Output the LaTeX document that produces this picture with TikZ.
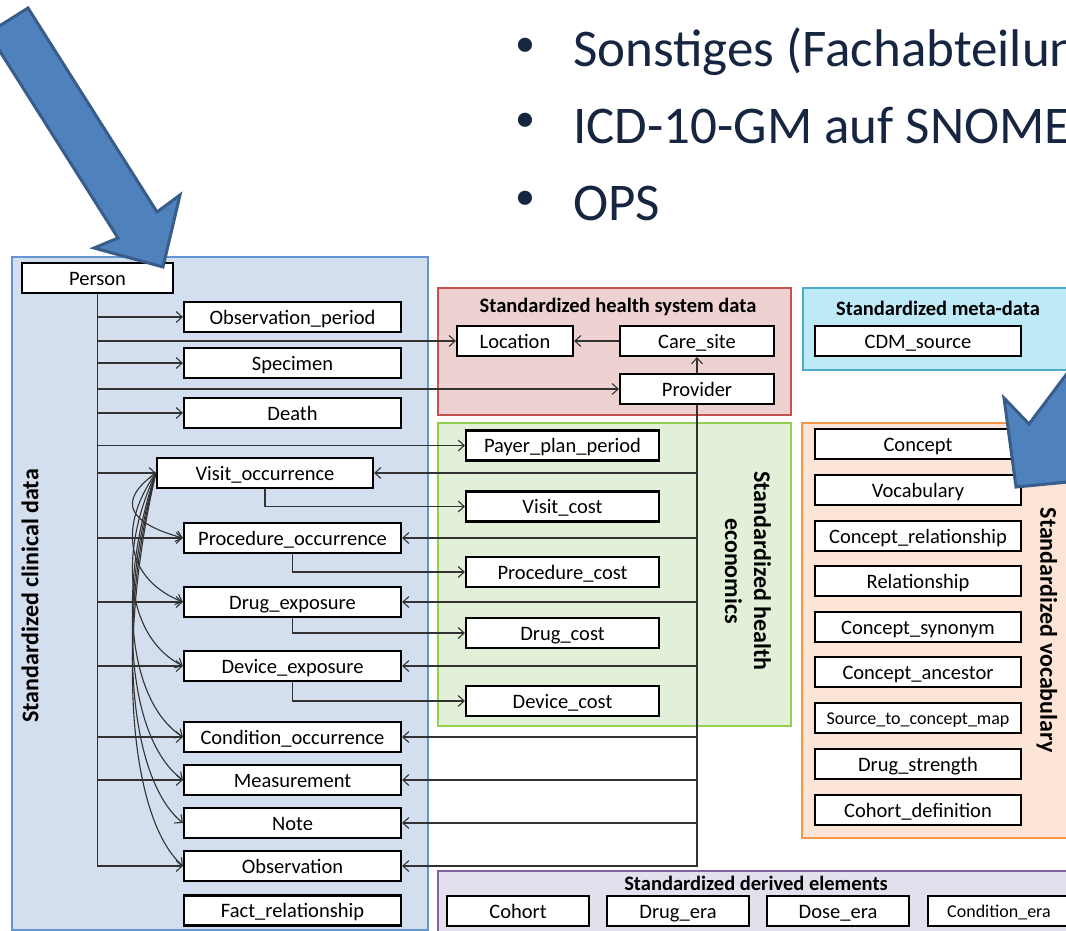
\documentclass[tikz,border=0pt]{standalone}
\usepackage{fontspec}
\setmainfont{Carlito}
\usetikzlibrary{arrows.meta}
\definecolor{clinfill}{RGB}{211,223,238}
\definecolor{clinborder}{RGB}{100,150,210}
\definecolor{hsfill}{RGB}{238,209,209}
\definecolor{hsborder}{RGB}{200,80,77}
\definecolor{ecfill}{RGB}{226,239,217}
\definecolor{ecborder}{RGB}{146,208,80}
\definecolor{mdfill}{RGB}{190,233,247}
\definecolor{mdborder}{RGB}{75,172,198}
\definecolor{vofill}{RGB}{252,228,214}
\definecolor{voborder}{RGB}{247,150,70}
\definecolor{defill}{RGB}{228,223,236}
\definecolor{deborder}{RGB}{128,100,162}
\definecolor{linecol}{RGB}{50,50,50}
\definecolor{arrowblue}{RGB}{79,129,189}
\definecolor{arrowdark}{RGB}{56,93,138}
\definecolor{navy}{RGB}{23,38,64}
\begin{document}
\begin{tikzpicture}[x=1pt,y=-1pt,
  box/.style={draw=black, line width=2.2pt, fill=white, minimum height=30pt, inner sep=0pt, text height=17pt, text depth=3pt, font=\fontsize{20.5}{24}\selectfont},
  sbox/.style={box, text height=15pt, text depth=3pt, font=\fontsize{18}{22}\selectfont},
  ttl/.style={font=\fontsize{20.5}{24}\selectfont\bfseries, inner sep=0pt},
  rttl/.style={font=\fontsize{24}{29}\selectfont\bfseries, inner sep=0pt, align=center},
  conn/.style={draw=linecol, line width=1.1pt},
  arr/.style={conn, -{Straight Barb[length=6pt,width=11pt]}},
  panel/.style={line width=1.6pt},
  bigarrow/.style={fill=arrowblue, draw=arrowdark, line width=3pt, line join=miter},
  bullettext/.style={font=\fontsize{53}{60}\selectfont, text=navy, inner sep=0pt, anchor=base west},
  bulletdot/.style={font=\fontsize{40}{40}\selectfont, text=navy, inner sep=0pt, anchor=center}
]
\useasboundingbox (0,0) rectangle (1066,931);
\clip (0,0) rectangle (1066,931);
\fill[white] (0,0) rectangle (1066,931);

% bullet list
\node[bulletdot] (d1) at (525,47) {•};
\node[bulletdot] (d2) at (525,122) {•};
\node[bulletdot] (d3) at (525,200) {•};
\node[bullettext] (l1) at (573,67) {Sonstiges (Fachabteilung};
\node[bullettext] (l2) at (573,144) {ICD-10-GM auf SNOMED};
\node[bullettext] (l3) at (573,220) {OPS};

% panels
\filldraw[panel, fill=clinfill, draw=clinborder] (12,257) rectangle (428,930);
\filldraw[panel, fill=hsfill, draw=hsborder] (438,288) rectangle (791,415);
\filldraw[panel, fill=ecfill, draw=ecborder] (438,423) rectangle (791,726);
\filldraw[panel, fill=mdfill, draw=mdborder] (803,288) rectangle (1080,370);
\filldraw[panel, fill=vofill, draw=voborder] (802,423) rectangle (1080,838);
\filldraw[panel, fill=defill, draw=deborder] (438,871) rectangle (1080,945);

% panel titles
\node[rttl, rotate=90] (tclin) at (30,596) {Standardized clinical data};
\node[ttl] (ths) at (618,307) {Standardized health system data};
\node[rttl, rotate=-90] (tec) at (748,571) {Standardized health\\economics};
\node[ttl] (tmd) at (938,308) {Standardized meta-data};
\node[rttl, rotate=-90] (tvo) at (1047,630) {Standardized vocabulary};
\node[ttl] (tde) at (756,883) {Standardized derived elements};

% clinical boxes
\node[box, minimum width=151pt] (person) at (97.5,278) {Person};
\node[box, minimum width=217pt] (obsp) at (292.5,317) {Observation\_period};
\node[box, minimum width=217pt] (specimen) at (292.5,363) {Specimen};
\node[box, minimum width=217pt] (death) at (292.5,413) {Death};
\node[box, minimum width=216pt] (visit) at (265,473) {Visit\_occurrence};
\node[box, minimum width=217pt] (proc) at (292.5,538) {Procedure\_occurrence};
\node[box, minimum width=217pt] (drug) at (292.5,602) {Drug\_exposure};
\node[box, minimum width=217pt] (device) at (292.5,666) {Device\_exposure};
\node[box, minimum width=217pt] (cond) at (292.5,737) {Condition\_occurrence};
\node[box, minimum width=217pt] (meas) at (292.5,780) {Measurement};
\node[box, minimum width=217pt] (note) at (292.5,823) {Note};
\node[box, minimum width=217pt] (obs) at (292.5,866) {Observation};
\node[box, minimum width=217pt] (fact) at (292.5,910.5) {Fact\_relationship};

% health system boxes
\node[box, minimum width=116pt] (location) at (515,341) {Location};
\node[box, minimum width=154pt] (caresite) at (697,341) {Care\_site};
\node[box, minimum width=154pt] (provider) at (697,389) {Provider};

% economics boxes
\node[box, minimum width=193pt] (payer) at (562.5,445.5) {Payer\_plan\_period};
\node[box, minimum width=193pt] (visitcost) at (562.5,506.5) {Visit\_cost};
\node[box, minimum width=193pt] (proccost) at (562.5,572) {Procedure\_cost};
\node[box, minimum width=193pt] (drugcost) at (562.5,633) {Drug\_cost};
\node[box, minimum width=193pt] (devicecost) at (562.5,701) {Device\_cost};

% meta-data
\node[box, minimum width=206pt] (cdm) at (918,341) {CDM\_source};

% vocabulary
\node[box, minimum width=206pt] (concept) at (918,444) {Concept};
\node[box, minimum width=206pt] (vocab) at (918,490) {Vocabulary};
\node[box, minimum width=206pt] (conceptrel) at (918,536) {Concept\_relationship};
\node[box, minimum width=206pt] (relationship) at (918,581) {Relationship};
\node[box, minimum width=206pt] (synonym) at (918,627) {Concept\_synonym};
\node[box, minimum width=206pt] (ancestor) at (918,672) {Concept\_ancestor};
\node[sbox, minimum width=206pt] (stcm) at (918,718) {Source\_to\_concept\_map};
\node[box, minimum width=206pt] (strength) at (918,764) {Drug\_strength};
\node[box, minimum width=206pt] (cohortdef) at (918,810) {Cohort\_definition};

% derived
\node[box, minimum width=142pt] (cohort) at (518,911) {Cohort};
\node[box, minimum width=142pt] (drugera) at (678,911) {Drug\_era};
\node[box, minimum width=142pt] (doseera) at (838,911) {Dose\_era};
\node[sbox, minimum width=142pt] (condera) at (999,911) {Condition\_era};

% connectors from Person
\draw[arr] (person.south) |- (obs.west);
\foreach \n in {obsp,specimen,death,visit,proc,drug,device,cond,meas,location,provider,payer}
  \draw[arr] (person.south |- \n.west) -- (\n.west);

% connectors from Provider
\draw[arr] (provider.south) |- (obs.east);
\foreach \n in {visit,proc,drug,device,cond,meas,note}
  \draw[arr] (provider.south |- \n.east) -- (\n.east);
\draw[arr] (caresite.west) -- (location.east);
\draw[arr] (provider.north) -- (caresite.south);

% cost links
\draw[arr] (visit.south) |- (visitcost.west);
\draw[arr] (proc.south) |- (proccost.west);
\draw[arr] (drug.south) |- (drugcost.west);
\draw[arr] (device.south) |- (devicecost.west);

% curves from Visit_occurrence
\draw[arr] (visit.west) .. controls (115,502) and (130,523.5) .. (proc.west);
\draw[arr] (visit.west) .. controls (115,531) and (130,581) .. (drug.west);
\draw[arr] (visit.west) .. controls (115,560) and (130,639) .. (device.west);
\draw[arr] (visit.west) .. controls (115,592) and (130,703) .. (cond.west);
\draw[arr] (visit.west) .. controls (115,611) and (130,741) .. (meas.west);
\draw[arr] (visit.west) .. controls (115,630.5) and (130,780) .. (note.west);
\draw[arr] (visit.west) .. controls (115,650) and (130,819) .. (obs.west);

% big blue arrows
\filldraw[bigarrow] (28,8) -- (157,212) -- (180,195) -- (163,267) -- (94,248) -- (118,238) -- (-11.7,33) -- cycle;
\filldraw[bigarrow] (1016,487) -- (1004,398) -- (1029,424) -- (1130,290) -- (1180,322) -- (1080,455) -- (1110,478) -- cycle;
\end{tikzpicture}
\end{document}
